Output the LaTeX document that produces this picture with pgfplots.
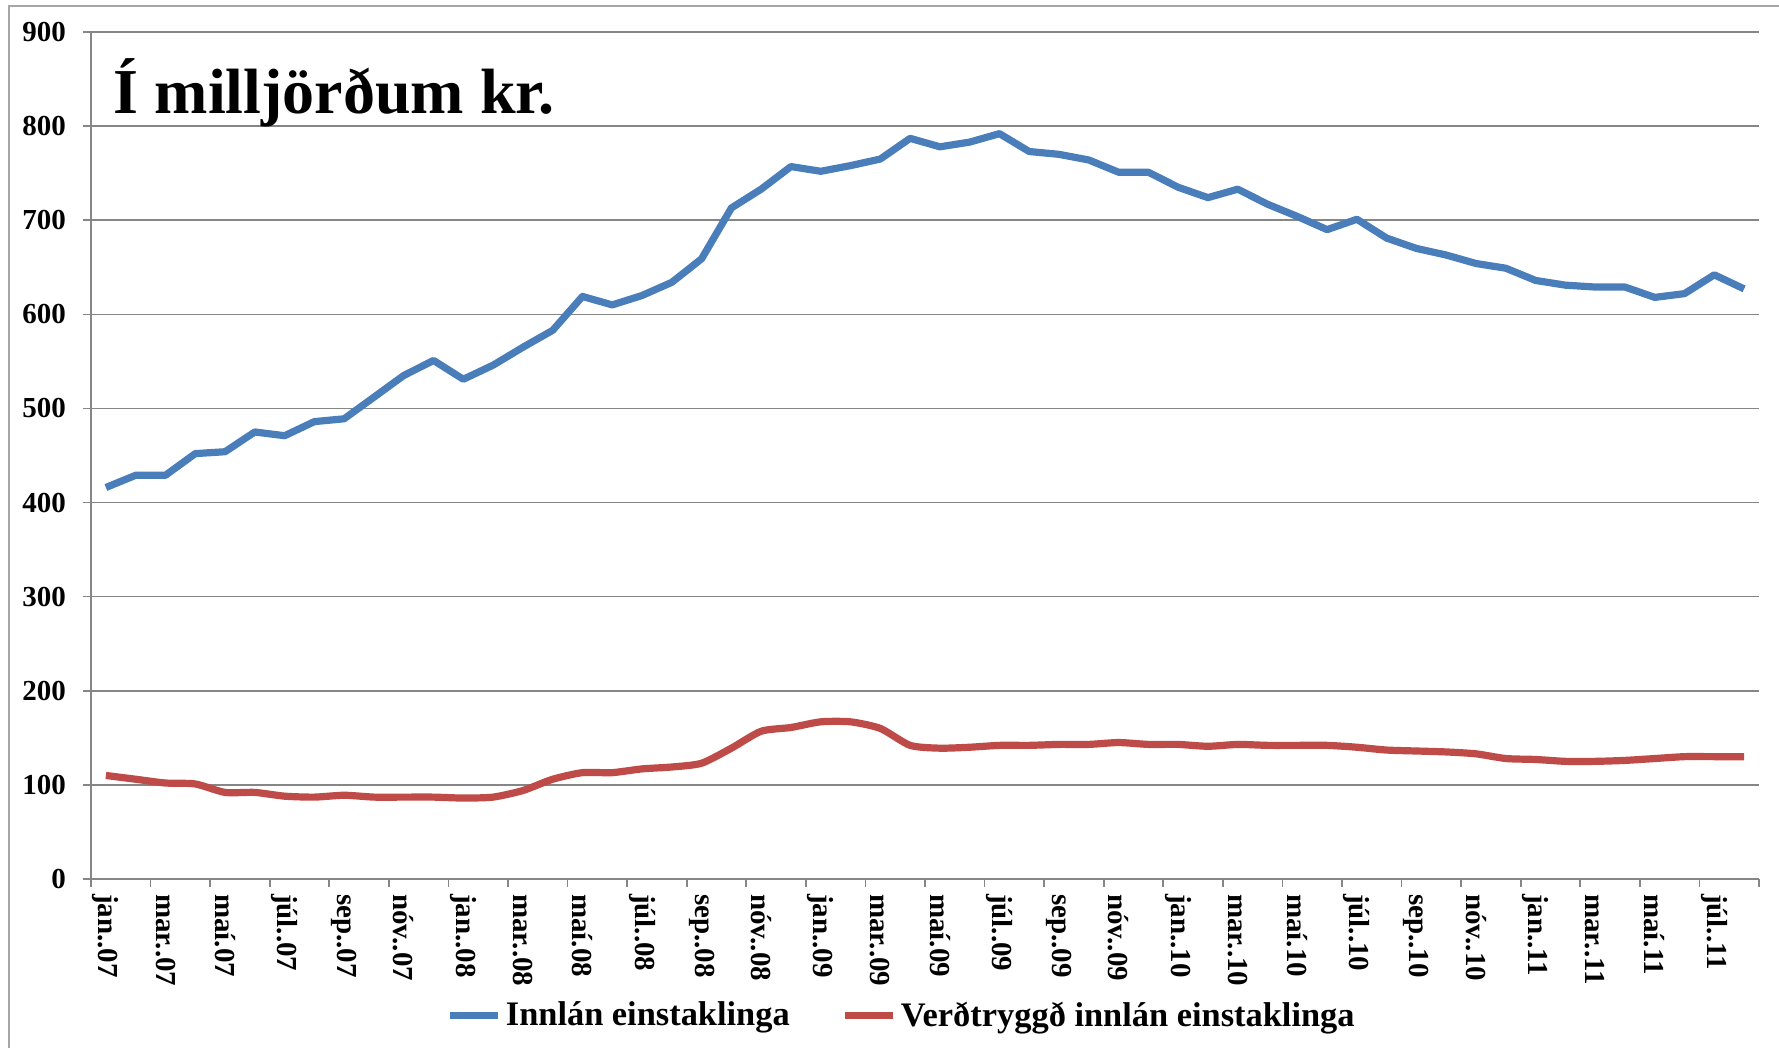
\documentclass[border=0pt]{standalone}
\usepackage{fontspec}
\setmainfont{Liberation Serif}
\usepackage{pgfplots}
\usepackage{pgfplotstable}
\pgfplotsset{compat=1.18}
\definecolor{cblue}{HTML}{4A7EBB}
\definecolor{cred}{HTML}{BE4B48}
\definecolor{cgrid}{HTML}{868686}
\definecolor{cframe}{HTML}{A6A6A6}
\pgfplotstableread{
x a b
0 416 110
1 429 106
2 429 102
3 452 101
4 454 92
5 475 92
6 471 88
7 486 87
8 489 89
9 512 87
10 535 87
11 551 87
12 531 86
13 546 87
14 565 94
15 583 106
16 619 113
17 610 113
18 620 117
19 634 119
20 659 123
21 713 139
22 733 157
23 757 161
24 752 167
25 758 167
26 765 160
27 787 142
28 778 139
29 783 140
30 792 142
31 773 142
32 770 143
33 764 143
34 751 145
35 751 143
36 735 143
37 724 141
38 733 143
39 717 142
40 704 142
41 690 142
42 701 140
43 681 137
44 670 136
45 663 135
46 654 133
47 649 128
48 636 127
49 631 125
50 629 125
51 629 126
52 618 128
53 622 130
54 642 130
55 627 130
}\datatable
\begin{document}
\begin{tikzpicture}
\useasboundingbox (-45.5pt,-84.5pt) rectangle (844pt,439.5pt);
\begin{axis}[
  at={(0pt,0pt)}, anchor=south west,
  scale only axis, width=834pt, height=423.5pt,
  xmin=-0.5, xmax=55.5, ymin=0, ymax=900,
  ytick={0,100,...,900},
  xtick={-0.5,1.5,...,55.5},
  xticklabels={},
  extra x ticks={0,2,...,54},
  extra x tick labels={jan..07,mar..07,maí.07,júl..07,sep..07,nóv..07,jan..08,mar..08,maí.08,júl..08,sep..08,nóv..08,jan..09,mar..09,maí.09,júl..09,sep..09,nóv..09,jan..10,mar..10,maí.10,júl..10,sep..10,nóv..10,jan..11,mar..11,maí.11,júl..11},
  extra x tick style={major tick length=0pt, grid=none},
  axis x line*=bottom, axis y line*=left,
  axis line style={cgrid, line width=0.8pt},
  tick style={cgrid, line width=0.8pt},
  major tick length=4pt,
  tick align=outside,
  ymajorgrids, grid style={cgrid, line width=0.8pt},
  /pgf/number format/assume math mode=true,
  ticklabel style={font=\bfseries\fontsize{14.5}{14.5}\selectfont},
  xticklabel style={rotate=-90, anchor=west, xshift=4pt, font=\bfseries\fontsize{14.5}{14.5}\selectfont},
  yticklabel style={xshift=-5pt},
  legend columns=2,
  legend style={at={(0.4866,-0.161)}, anchor=center, draw=none, fill=none,
    font=\bfseries\fontsize{17.2}{17.2}\selectfont,
    /tikz/every even column/.append style={column sep=24pt}},
  legend image code/.code={\draw[#1] (0pt,0pt) -- (24pt,0pt);},
  clip=false,
]
\addplot[cblue, line width=3.6pt, line join=round] table[x=x, y=a] {\datatable};
\addlegendentry{Innlán einstaklinga}
\addplot[cred, line width=3.6pt, line join=round, smooth, tension=0.4] table[x=x, y=b] {\datatable};
\addlegendentry{Verðtryggð innlán einstaklinga}
\node[anchor=base west, font=\bfseries\fontsize{32}{32}\selectfont, inner sep=0pt] at (axis description cs:0.0135,0.9038) {Í milljörðum kr.};
\end{axis}
\draw[cframe, line width=1pt] (-41pt,-90pt) -- (-41pt,436.7pt) -- (850pt,436.7pt);
\end{tikzpicture}
\end{document}
